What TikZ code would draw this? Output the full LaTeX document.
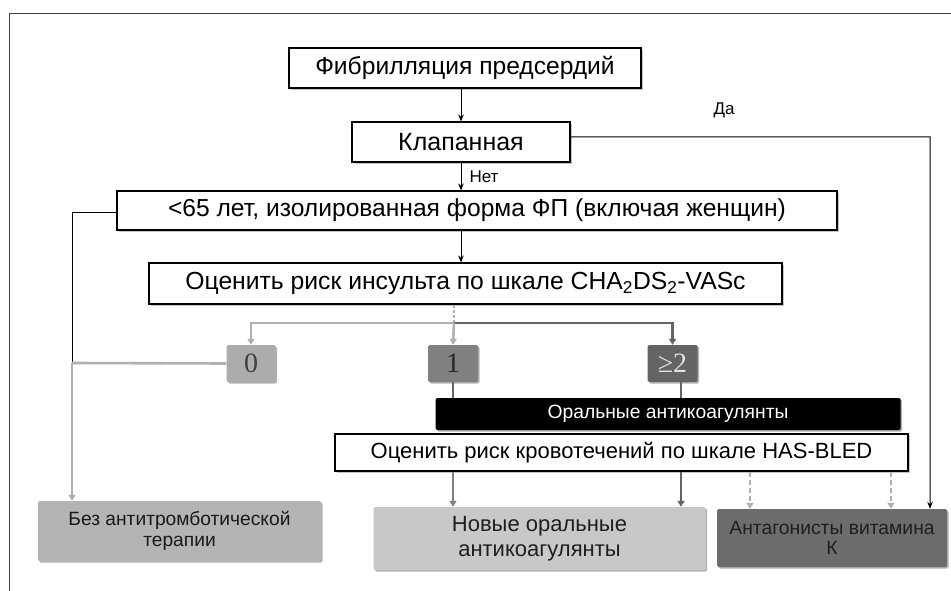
\documentclass[tikz,border=0pt]{standalone}
\usepackage{fontspec}
\setmainfont{Liberation Sans}
\newfontfamily\numfont{Liberation Serif}
\usetikzlibrary{arrows.meta,shadows}
\definecolor{zerofill}{RGB}{172,172,172}
\definecolor{onefill}{RGB}{128,128,128}
\definecolor{twofill}{RGB}{100,100,100}
\definecolor{bezfill}{RGB}{180,180,180}
\definecolor{novfill}{RGB}{200,200,200}
\definecolor{antfill}{RGB}{108,108,108}
\definecolor{lgray}{RGB}{176,176,176}
\definecolor{mgray}{RGB}{128,128,128}
\definecolor{dgray}{RGB}{100,100,100}
\tikzset{
  fsz/.style={font=\fontsize{#1bp}{#1bp}\selectfont},
  fszl/.style 2 args={font=\fontsize{#1bp}{#2bp}\selectfont},
  wbox/.style={draw=black, line width=1.1bp, fill=white, inner sep=0pt, align=center,
    drop shadow={shadow xshift=2bp, shadow yshift=-2bp, fill=black!50, opacity=0.45}},
  gbox/.style={inner sep=0pt, align=center, rounded corners=1.5bp,
    drop shadow={shadow xshift=1.5bp, shadow yshift=-1.5bp, fill=black!60, opacity=0.5}},
  numbox/.style={gbox, font=\numfont\fontsize{28bp}{28bp}\selectfont},
  blk/.style={draw=black, line width=1bp},
  blkarr/.style={blk, -{Stealth[length=7bp,width=5.5bp]}},
  gline/.style={draw=#1, line width=2.6bp},
  garr/.style={gline=#1, -{Triangle[length=6bp,width=7bp]}},
  dline/.style={garr=#1, dash pattern=on 5bp off 3bp},
}
\begin{document}
\begin{tikzpicture}[x=1bp,y=-1bp]
\useasboundingbox (0,0) rectangle (951,591);
% frame
\draw[draw=black!75, line width=1bp] (9,591) -- (9,14) -- (951,14);

% nodes
\node[wbox, fsz=24.6, minimum width=352bp, minimum height=40bp] (fib) at (465,68) {Фибрилляция предсердий};
\node[wbox, fsz=25, minimum width=218bp, minimum height=40bp] (klap) at (461,142) {Клапанная};
\node[wbox, fsz=24.6, minimum width=720bp, minimum height=39bp] (age) at (477,210.5) {<65 лет, изолированная форма ФП (включая женщин)};
\node[wbox, fsz=24.7, minimum width=633bp, minimum height=41bp] (cha) at (465.5,283.5) {Оценить риск инсульта по шкале CHA\textsubscript{2}DS\textsubscript{2}-VASc};

\node[numbox, fill=zerofill, text=black!75, minimum width=49bp, minimum height=37bp] (z0) at (251,363.5) {0};
\node[numbox, fill=onefill, text=black!85, minimum width=50bp, minimum height=37bp] (z1) at (453,363.5) {1};
\node[numbox, fill=twofill, text=black!12, minimum width=50bp, minimum height=37bp] (z2) at (672.5,363.5) {≥2};

\node[gbox, fill=black, text=white, fsz=19.3, minimum width=465bp, minimum height=32bp] (oral) at (668,414) {Оральные антикоагулянты};
\node[wbox, fsz=22, minimum width=573bp, minimum height=37bp] (has) at (621.5,452.5) {Оценить риск кровотечений по шкале HAS-BLED};

\node[gbox, fill=bezfill, text=black!90, fszl={19.2}{21}, minimum width=283bp, minimum height=60bp] (bez) at (179.5,531) {Без антитромботической\\терапии};
\node[gbox, fill=novfill, text=black!88, fszl={22}{25}, minimum width=332bp, minimum height=63bp] (nov) at (539.5,538.5) {Новые оральные\\антикоагулянты};
\node[gbox, fill=antfill, text=black!88, fszl={19.3}{20.5}, minimum width=230bp, minimum height=58bp] (ant) at (832,538) {Антагонисты витамина\\К};

\node[fsz=17] (da) at (724,110) {Да};
\node[fsz=17, anchor=west] (net) at (466,177) {Нет};

% helper coordinates
\coordinate (lj) at (72,213);
\coordinate (lm) at (72,363);
\coordinate (rk) at (930,137);
\coordinate (bj) at (454,323);
\coordinate (c681) at (681,0);
\coordinate (c750) at (750,0);
\coordinate (c891) at (891,0);

% top connectors
\draw[blkarr] (fib.south -| klap) -- (klap.north);
\draw[blkarr] (klap.south) -- (klap.south |- age.north);
\draw[blkarr] (age.south -| klap) -- (cha.north -| klap);
\draw[blkarr] ([yshift=5bp]klap.east) -- (rk) -- (ant.north -| rk);
\draw[blk] (age.west |- lj) -- (lj) -- (lm);

% left branch
\draw[garr=lgray] (lm) -- (bez.north -| lm);
\draw[gline=lgray] (z0.west) -- (lm);

% score branches
\draw[gline=lgray, line width=1.5bp, dash pattern=on 3bp off 2bp] (cha.south -| bj) -- (bj);
\draw[garr=dgray] (bj) -- (bj -| z2) -- (z2.north);
\draw[garr=lgray] (bj) -- (bj -| z0) -- (z0.north);
\draw[garr=lgray] (bj) -- (z1.north);

\draw[gline=dgray] (z1.south) -- (z1.south |- oral.north);
\draw[gline=dgray] (z2.south -| c681) -- (oral.north -| c681);

% has-bled outputs
\draw[garr=mgray] (has.south -| z1) -- (nov.north -| z1);
\draw[garr=dgray] (has.south -| c681) -- (nov.north -| c681);
\draw[dline=lgray] (has.south -| c750) -- (ant.north -| c750);
\draw[dline=lgray] (has.south -| c891) -- (ant.north -| c891);
\end{tikzpicture}
\end{document}
